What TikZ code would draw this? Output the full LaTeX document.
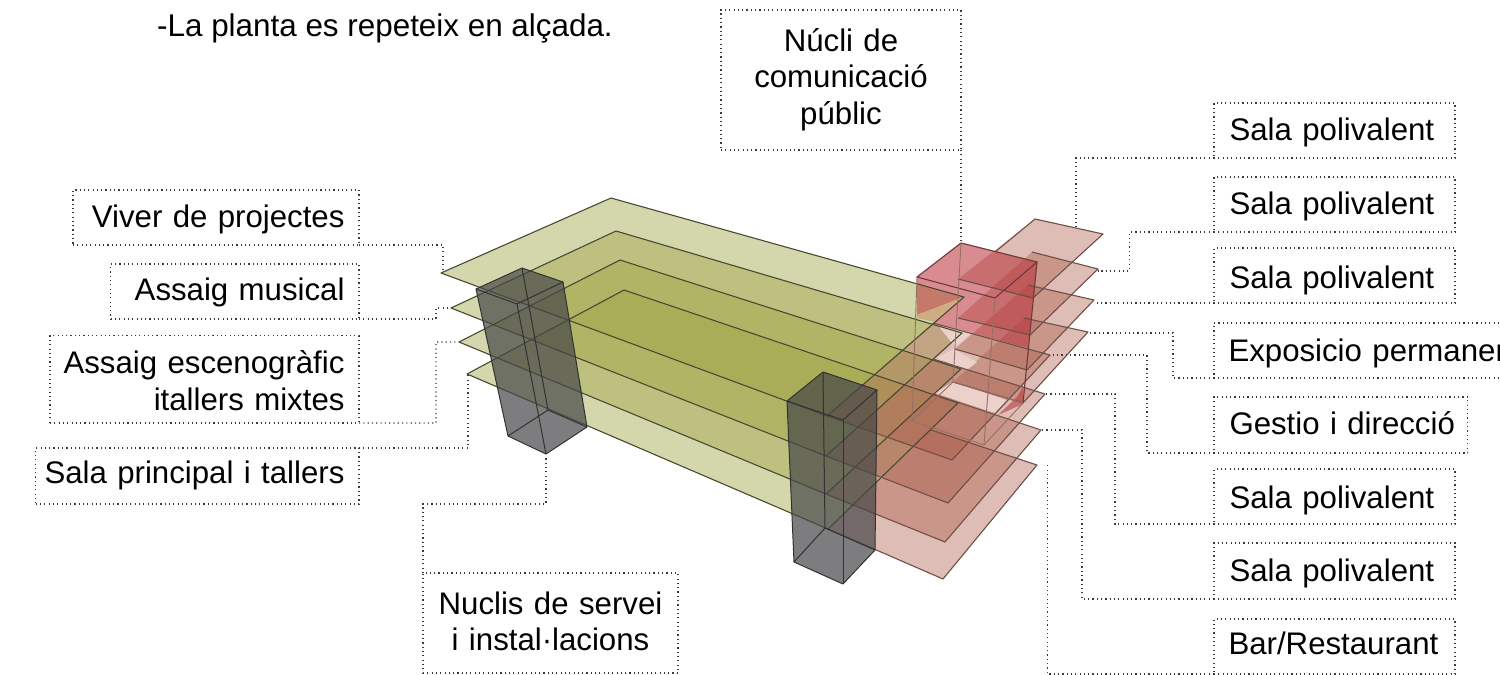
\documentclass[tikz,border=0pt]{standalone}
\usepackage{fontspec}
\setmainfont{Liberation Sans}
\definecolor{olivef}{RGB}{160,165,70}
\definecolor{pinkf}{RGB}{170,90,70}
\definecolor{redf}{RGB}{185,45,52}
\definecolor{grayf}{RGB}{70,70,72}
\definecolor{edgeg}{RGB}{72,74,50}
\definecolor{edgep}{RGB}{112,78,72}
\definecolor{edger}{RGB}{112,55,60}
\definecolor{edgeb}{RGB}{150,110,100}
\definecolor{edgek}{RGB}{50,50,50}
\definecolor{palew}{RGB}{236,208,202}
\definecolor{tanw}{RGB}{206,172,130}
\definecolor{dots}{RGB}{60,60,60}
\tikzset{
  txt/.style={font=\fontsize{31.2}{36.5}\selectfont,text=black},
  lab/.style={txt,draw=dots,line width=1.15pt,dash pattern=on 1.15pt off 3.15pt,anchor=north west,inner ysep=0pt,inner xsep=5pt,outer sep=0pt},
  leader/.style={draw=dots,line width=1.15pt,dash pattern=on 1.15pt off 3.15pt},
  gplate/.style={fill=olivef,fill opacity=.45},
  pplate/.style={fill=pinkf,fill opacity=.4},
  pedge/.style={draw=edgep,line width=1.1pt,line join=round},
  gedge/.style={draw=edgeg,line width=1.1pt,line join=round},
  redge/.style={draw=edger,line width=1.1pt},
  redgethin/.style={draw=edgeb,line width=.9pt},
  kedge/.style={draw=edgek,line width=1pt,line join=round}
}
\newcommand{\lp}{\hspace*{10.5pt}}
\newcommand{\rp}{\hspace*{9.5pt}\hbox{}}
\begin{document}
\begin{tikzpicture}[x=1pt,y=-1pt]
\useasboundingbox (0,0) rectangle (1500,675);
% back pink plates
\fill[pplate] (1024,318)--(1088,332)--(1023,403)--(953,382)--cycle;
\fill[pplate] (1028,285)--(1094,300)--(1027,370)--(955,349)--cycle;
\fill[pplate] (1032,252)--(1098,269)--(1030,335)--(958,318)--cycle;
\fill[pplate] (1035,219)--(1103,234)--(1033,298)--(958,279)--cycle;
% level plates, bottom to top
\fill[gplate] (467,374)--(624,290)--(958,403)--(828,529)--cycle;
\fill[pplate] (931,430)--(1037,465)--(943,579)--(828,529)--cycle;
\fill[gplate] (459,342)--(620,260)--(961,369)--(826,494)--cycle;
\fill[pplate] (933,394)--(1041,430)--(945,542)--(826,494)--cycle;
\fill[gplate] (451,308)--(616,231)--(962,333)--(826,456)--cycle;
\fill[pplate] (933,359)--(1045,394)--(948,503)--(826,456)--cycle;
\fill[gplate] (441,273)--(611,198)--(964,297)--(827,416)--cycle;
\fill[pplate] (933,323)--(1050,355)--(952,460)--(827,416)--cycle;
% red core
\fill[redf,fill opacity=.55] (917,277)--(961,243)--(1037,262)--(1028,348)--(933,323)--(964,297)--(917,315)--cycle;
\fill[tanw] (917,315)--(964,297)--(935,322)--(917,318)--cycle;
\fill[redf,fill opacity=.55] (1023,387)--(1023,404)--(998,415)--(1017,397)--cycle;
% pale openings
\fill[palew] (937,324)--(972,333)--(955,347)--cycle;
\fill[palew] (937,358)--(953,349)--(977,362)--(967,370)--cycle;
\fill[palew] (935,393)--(953,382)--(1007,400)--(995,413)--cycle;
% plate outlines
\draw[pedge] (1024,318)--(1088,332)--(1023,403)--(953,382);
\draw[pedge] (1028,285)--(1094,300)--(1027,370)--(955,349);
\draw[pedge] (1032,252)--(1098,269)--(1030,335)--(958,318);
\draw[pedge] (995,252)--(1035,219)--(1103,234)--(1033,298)--(958,279);
\draw[gedge] (828,529)--(467,374)--(624,290)--(958,403)--(828,529);
\draw[pedge] (931,430)--(1037,465)--(943,579)--(828,529);
\draw[gedge] (826,494)--(459,342)--(620,260)--(961,369)--(826,494);
\draw[pedge] (933,394)--(1041,430)--(945,542)--(826,494);
\draw[gedge] (826,456)--(451,308)--(616,231)--(962,333)--(826,456);
\draw[pedge] (933,359)--(1045,394)--(948,503)--(826,456);
\draw[gedge] (827,416)--(441,273)--(611,198)--(964,297)--(827,416);
\draw[pedge] (933,323)--(1050,355)--(952,460)--(827,416);
% red core edges
\draw[redge] (917,277)--(961,243)--(1037,262)--(995,298)--cycle;
\draw[redge] (1037,262)--(1023,403);
\draw[redgethin] (917,277)--(912,421)--(984,445)--(995,298);
\draw[redgethin] (961,243)--(953,382);
\draw[redgethin] (912,421)--(953,382);
\draw[redgethin] (984,445)--(1023,403);
\draw[redgethin] (953,382)--(1023,403);
% service cores
\fill[grayf,fill opacity=.7] (476,289)--(522,268)--(563,282)--(587,427)--(546,454)--(508,436)--cycle;
\draw[kedge] (476,289)--(522,268)--(563,282)--(587,427)--(546,454)--(508,436)--cycle;
\draw[kedge] (476,289)--(517,304)--(563,282);
\draw[kedge] (517,304)--(546,454);
\draw[kedge] (522,268)--(548,410);
\draw[kedge] (508,436)--(548,410)--(587,427);
\fill[grayf,fill opacity=.7] (787,401)--(823,372)--(877,390)--(875,550)--(843,584)--(794,562)--cycle;
\draw[kedge] (787,401)--(823,372)--(877,390)--(875,550)--(843,584)--(794,562)--cycle;
\draw[kedge] (787,401)--(843,420)--(877,390);
\draw[kedge] (843,420)--(843,584);
\draw[kedge] (823,372)--(825,528);
\draw[kedge] (794,562)--(825,528)--(875,550);
% title
\node[font=\fontsize{31.4}{36.5}\selectfont,anchor=base west,inner sep=0pt] (title) at (157,36) {-La planta es repeteix en alçada.};
% labels
\node[lab,align=center,text width=230pt,text height=41pt,text depth=99pt] (nucli) at (721,10) {Núcli de\\comunicació\\públic};
\node[lab,align=left,text width=231pt,text height=37.5pt,text depth=17.5pt] (r1) at (1214,103) {\lp Sala polivalent};
\node[lab,align=left,text width=231pt,text height=37.5pt,text depth=17.5pt] (r2) at (1214,177) {\lp Sala polivalent};
\node[lab,align=left,text width=231pt,text height=40pt,text depth=15pt] (r3) at (1214,248) {\lp Sala polivalent};
\node[lab,align=left,text width=320pt,text height=38pt,text depth=17pt] (r4) at (1214,323) {\hspace*{9.5pt}Exposicio permanent};
\node[lab,align=left,text width=243.7pt,text height=37.5pt,text depth=18.5pt] (r5) at (1214,397) {\lp Gestio i direcció};
\node[lab,align=left,text width=231pt,text height=39pt,text depth=16pt] (r6) at (1214,469) {\lp Sala polivalent};
\node[lab,align=left,text width=231pt,text height=38pt,text depth=18pt] (r7) at (1214,543) {\lp Sala polivalent};
\node[lab,align=left,text width=231pt,text height=35pt,text depth=20pt] (r8) at (1214,619) {\hspace*{9.5pt}Bar/Restaurant};
\node[lab,align=right,text width=276pt,text height=37pt,text depth=18pt] (l1) at (73,190) {Viver de projectes\rp};
\node[lab,align=right,text width=238.3pt,text height=36pt,text depth=19pt] (l2) at (110.7,264) {Assaig musical\rp};
\node[lab,align=right,text width=299pt,text height=38pt,text depth=49.3pt] (l3) at (50,335.7) {Assaig escenogràfic\rp\\itallers mixtes\rp};
\node[lab,align=right,text width=313.3pt,text height=35.2pt,text depth=20.8pt] (l4) at (35.7,448) {Sala principal i tallers\rp};
\node[lab,align=center,text width=245pt,text height=41pt,text depth=59pt] (n) at (423,573) {Nuclis de servei\\i instal·lacions};
% leader ends
\coordinate (e1) at (1076,227); \coordinate (e2) at (1098,271); \coordinate (e3) at (1094,303);
\coordinate (e4) at (1088,333); \coordinate (e5) at (1050,355); \coordinate (e6) at (1045,394);
\coordinate (e7) at (1041,430); \coordinate (e8) at (1047.5,463);
\coordinate (w1) at (443,272); \coordinate (w2) at (450,308); \coordinate (w3) at (459,342);
\coordinate (w4) at (468,375); \coordinate (s1) at (546,458); \coordinate (t1) at (961,243);
\draw[leader] (r1.south west) -- (1076,158) -- (e1);
\draw[leader] (r2.south west) -- (1129.5,232) -- (1129.5,271) -- (e2);
\draw[leader] (r3.south west) -- (e3);
\draw[leader] (r4.south west) -- (1173,378) -- (1173,333) -- (e4);
\draw[leader] (r5.south west) -- (1147,453) -- (1147,355) -- (e5);
\draw[leader] (r6.south west) -- (1115,524) -- (1115,394) -- (e6);
\draw[leader] (r7.south west) -- (1082,599) -- (1082,430) -- (e7);
\draw[leader] (r8.south west) -- (1047.5,674) -- (e8);
\draw[leader] (l1.south east) -- (443,245) -- (w1);
\draw[leader] (l2.south east) -- (436,319) -- (436,308) -- (w2);
\draw[leader] (l3.south east) -- (436,423) -- (436,342) -- (w3);
\draw[leader] (l4.north east) -- (468,448) -- (w4);
\draw[leader] (n.north west) -- (423,504) -- (546,504) -- (s1);
\draw[leader] (nucli.south east) -- (t1);
\end{tikzpicture}
\end{document}
